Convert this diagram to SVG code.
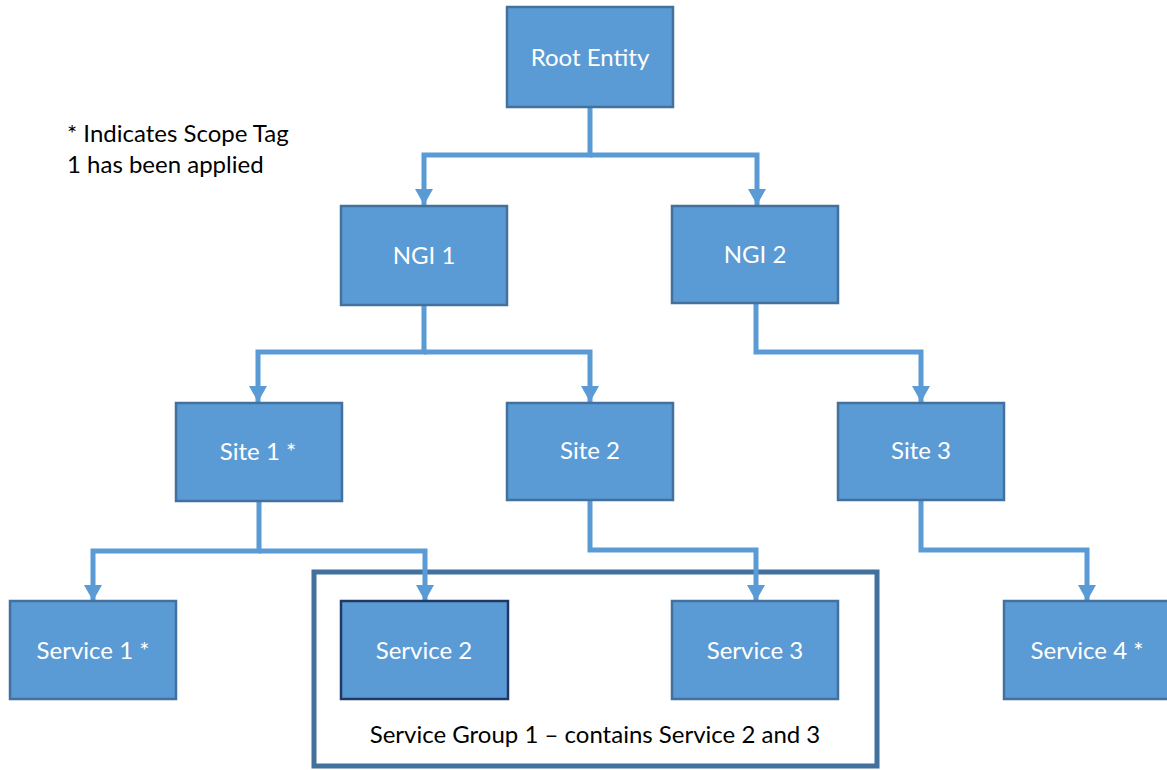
<svg xmlns="http://www.w3.org/2000/svg" width="1167" height="770" viewBox="0 0 1167 770">
<defs>
<marker id="arr" markerUnits="userSpaceOnUse" markerWidth="18" markerHeight="16" refX="9" refY="16" orient="0" viewBox="0 0 18 16">
<path d="M0,0 L18,0 L9,16 Z" fill="#5b9bd5"/>
</marker>
</defs>
<style>
.node{fill:#5b9bd5;stroke:#41719c;stroke-width:2.5}
.sel{fill:#5b9bd5;stroke:#1f3864;stroke-width:2.5}
.lbl{font-family:"Lato","Open Sans",sans-serif;font-size:24px;fill:#ffffff;text-anchor:middle}
.txt{font-family:"Lato","Open Sans",sans-serif;font-size:24px;fill:#000000}
.con{fill:none;stroke:#5b9bd5;stroke-width:5;stroke-linejoin:miter;marker-end:url(#arr)}
</style>
<rect width="1167" height="770" fill="#ffffff"/>
<g id="legend">
<text class="txt" x="67" y="142">* Indicates Scope Tag</text>
<text class="txt" x="67" y="173">1 has been applied</text>
</g>
<g id="service-group-1">
<rect x="314" y="572" width="563" height="194" fill="none" stroke="#41719c" stroke-width="5"/>
<text class="txt" x="595" y="743" text-anchor="middle">Service Group 1 – contains Service 2 and 3</text>
</g>
<g id="connectors">
<path class="con" d="M590,107 V155 H424 V205"/>
<path class="con" d="M590,155 H757 V205"/>
<path class="con" d="M424,305 V352 H258 V402"/>
<path class="con" d="M424,352 H590 V402"/>
<path class="con" d="M756,303 V352 H921 V402"/>
<path class="con" d="M259,501 V551 H93 V601"/>
<path class="con" d="M259,551 H425 V601"/>
<path class="con" d="M590,500 V550 H756 V601"/>
<path class="con" d="M921,500 V550 H1087 V601"/>
</g>
<g id="root-entity"><rect class="node" x="507" y="7" width="166" height="100"/><text class="lbl" x="590" y="66">Root Entity</text></g>
<g id="ngi-1"><rect class="node" x="341" y="206" width="166" height="99"/><text class="lbl" x="424" y="264">NGI 1</text></g>
<g id="ngi-2"><rect class="node" x="672" y="206" width="166" height="97"/><text class="lbl" x="755" y="263">NGI 2</text></g>
<g id="site-1"><rect class="node" x="176" y="403" width="166" height="98"/><text class="lbl" x="258" y="460">Site 1 *</text></g>
<g id="site-2"><rect class="node" x="507" y="403" width="166" height="97"/><text class="lbl" x="590" y="459">Site 2</text></g>
<g id="site-3"><rect class="node" x="838" y="403" width="166" height="97"/><text class="lbl" x="921" y="459">Site 3</text></g>
<g id="service-1"><rect class="node" x="10" y="601" width="166" height="98"/><text class="lbl" x="93" y="659">Service 1 *</text></g>
<g id="service-2"><rect class="sel" x="341" y="601" width="167" height="98"/><text class="lbl" x="424" y="659">Service 2</text></g>
<g id="service-3"><rect class="node" x="672" y="601" width="166" height="98"/><text class="lbl" x="755" y="659">Service 3</text></g>
<g id="service-4"><rect class="node" x="1004" y="601" width="166" height="98"/><text class="lbl" x="1087" y="659">Service 4 *</text></g>
</svg>
